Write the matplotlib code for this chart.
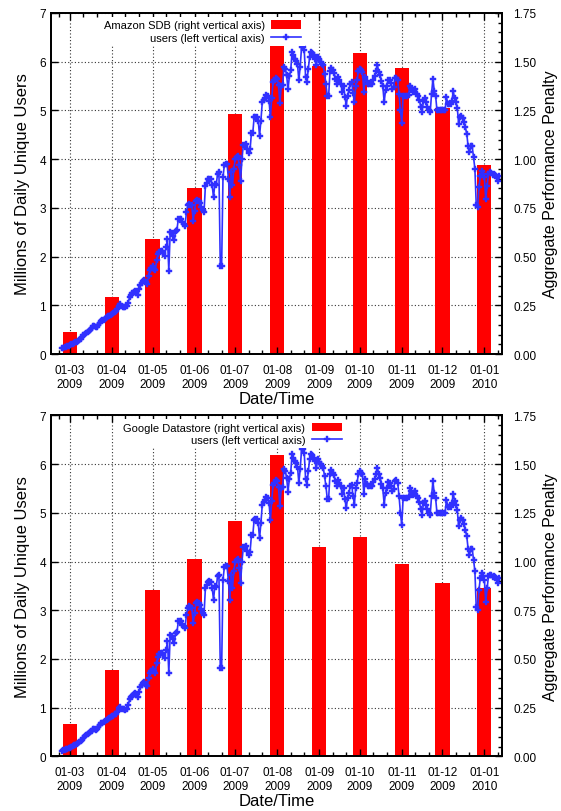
import matplotlib
matplotlib.use('Agg')
import matplotlib.pyplot as plt
import matplotlib.dates as mdates
from matplotlib.ticker import MultipleLocator, FormatStrFormatter
from datetime import date, timedelta

plt.rcParams['font.family'] = ['Liberation Sans', 'DejaVu Sans']

# daily unique users (millions), one value per day starting 2009-02-23
users_feb = [0.12, 0.13, 0.14, 0.15, 0.16, 0.17]
users_mar = [0.18, 0.20, 0.21, 0.23, 0.24, 0.25, 0.27, 0.29, 0.31, 0.34,
             0.38, 0.41, 0.43, 0.46, 0.48, 0.50, 0.53, 0.57, 0.57, 0.55,
             0.56, 0.60, 0.64, 0.68, 0.69, 0.70, 0.72, 0.75, 0.77, 0.79, 0.81]
users_apr = [0.82, 0.84, 0.87, 0.88, 0.92, 0.99, 1.02, 0.98, 0.97, 0.97,
             0.96, 0.98, 1.05, 1.17, 1.22, 1.25, 1.28, 1.30, 1.26, 1.22,
             1.33, 1.42, 1.46, 1.50, 1.52, 1.47, 1.44, 1.60, 1.72, 1.76]
users_may = [1.80, 1.75, 1.72, 1.92, 2.05, 2.10, 2.12, 2.12, 2.08, 2.02,
             2.19, 2.36, 1.71, 2.50, 2.48, 2.42, 2.33, 2.53, 2.55, 2.77,
             2.77, 2.78, 2.70, 2.67, 2.63, 2.91, 3.05, 3.08, 3.06, 3.05, 2.74]
users_jun = [2.94, 3.15, 3.16, 3.15, 3.10, 3.02, 2.95, 2.91, 3.45, 3.52,
             3.59, 3.60, 3.59, 3.46, 3.22, 3.49, 3.47, 3.70, 3.73, 1.81,
             1.81, 3.63, 3.88, 3.90, 3.90, 3.60, 3.22, 3.73, 3.46, 3.80]
users_jul = [4.00, 4.04, 4.06, 3.87, 3.56, 4.00, 4.29, 4.30, 4.31, 4.21,
             4.13, 4.20, 4.54, 4.54, 4.86, 4.87, 4.87, 4.79, 4.48, 4.79,
             5.17, 5.22, 5.26, 5.32, 5.30, 5.20, 4.86, 5.25, 5.58, 5.62, 5.67]
users_aug = [5.65, 5.52, 5.15, 5.50, 5.52, 5.89, 5.86, 5.72, 5.43, 5.70,
             5.82, 6.20, 6.13, 6.06, 6.02, 5.95, 5.62, 5.89, 6.30, 6.30,
             6.23, 5.69, 5.58, 5.86, 6.10, 6.20, 6.18, 6.13, 6.06, 5.93, 6.10]
users_sep = [6.05, 6.00, 5.96, 5.93, 5.75, 5.55, 5.29, 5.29, 5.80, 5.88,
             5.82, 5.77, 5.65, 5.55, 5.68, 5.62, 5.55, 5.38, 5.50, 5.28,
             5.10, 5.30, 5.41, 5.55, 5.58, 5.35, 5.17, 5.50, 5.62, 5.80]
users_oct = [5.85, 5.82, 5.79, 5.38, 5.69, 5.60, 5.55, 5.55, 5.55, 5.55,
             5.63, 5.70, 5.80, 5.93, 5.79, 5.72, 5.60, 5.50, 5.17, 5.41,
             5.51, 5.63, 5.62, 5.56, 5.44, 5.48, 5.66, 5.67, 5.62, 5.34, 5.00]
users_nov = [4.75, 5.30, 5.30, 5.30, 5.30, 5.32, 5.50, 5.45, 5.37, 5.41,
             5.44, 5.34, 5.30, 5.22, 5.08, 4.96, 5.20, 5.25, 5.17, 5.08,
             5.00, 4.96, 5.34, 5.65, 5.40, 5.30, 5.00, 5.00, 5.00, 5.00]
users_dec = [5.00, 5.00, 5.00, 5.27, 5.13, 5.13, 5.13, 5.20, 5.39, 5.25,
             5.17, 5.05, 4.72, 4.86, 4.89, 4.85, 4.77, 4.65, 4.52, 4.26,
             4.14, 4.26, 4.26, 4.04, 3.80, 3.06, 3.01, 3.42, 3.66, 3.76, 3.70]
users_jan = [3.63, 3.18, 3.45, 3.70, 3.73, 3.72, 3.68, 3.70, 3.68, 3.62,
             3.56, 3.66]

users = (users_feb + users_mar + users_apr + users_may + users_jun + users_jul
         + users_aug + users_sep + users_oct + users_nov + users_dec + users_jan)
start = date(2009, 2, 23)
days = [start + timedelta(days=i) for i in range(len(users))]

# monthly penalty bars (right axis)
months = [date(2009, 3, 1), date(2009, 4, 1), date(2009, 5, 1), date(2009, 6, 1),
          date(2009, 7, 1), date(2009, 8, 1), date(2009, 9, 1), date(2009, 10, 1),
          date(2009, 11, 1), date(2009, 12, 1), date(2010, 1, 1)]
sdb_penalty = [0.113, 0.29, 0.59, 0.85, 1.23, 1.598, 1.48, 1.545, 1.468, 1.263, 0.972]
gds_penalty = [0.165, 0.443, 0.855, 1.012, 1.21, 1.546, 1.074, 1.125, 0.988, 0.889, 0.866]

fig = plt.figure(figsize=(5.61, 8.12), dpi=100)

def panel(rect, penalty, name, leg_x):
    ax = fig.add_axes(rect)
    ax2 = ax.twinx()
    ax.set_zorder(ax2.get_zorder() + 1)
    ax.patch.set_visible(False)

    bars = ax2.bar(months, penalty, width=10.5, color='#ff0000', zorder=2,
                   label=name + ' (right vertical axis)')
    line, = ax.plot(days, users, color='#3030ff', lw=1.2, marker='P', ms=4.5,
                    mew=0.3, label='users (left vertical axis)')

    ax.set_xlim(date(2009, 2, 15), date(2010, 1, 14))
    ax.set_ylim(0, 7)
    ax2.set_ylim(0, 1.75)

    ax.xaxis.set_major_locator(mdates.MonthLocator())
    ax.xaxis.set_minor_locator(mdates.DayLocator(bymonthday=[11, 21]))
    ax.xaxis.set_major_formatter(mdates.DateFormatter('%d-%m\n%Y'))
    ax.yaxis.set_major_locator(MultipleLocator(1))
    ax2.yaxis.set_major_locator(MultipleLocator(0.25))
    ax2.yaxis.set_minor_locator(MultipleLocator(0.05))
    ax2.yaxis.set_major_formatter(FormatStrFormatter('%.2f'))

    # grid lives on the bar axis so the bars cover it
    ax2.xaxis.set_visible(True)
    ax2.set_axisbelow(True)
    ax2.grid(True, which='major', ls=(0, (1, 2)), color='#333333', lw=0.8)
    ax2.tick_params(axis='x', which='both', bottom=False, top=False,
                    labelbottom=False)

    ax.tick_params(axis='x', which='major', direction='in', top=True,
                   length=5, width=1, labelsize=8.5, pad=7)
    ax.tick_params(axis='x', which='minor', direction='in', top=True,
                   length=3, width=1)
    ax.tick_params(axis='y', direction='in', left=True, right=False,
                   length=5, width=1, labelsize=8.5)
    ax2.tick_params(axis='y', which='major', direction='in', length=5, width=1,
                    labelsize=8.5, pad=8)
    ax2.tick_params(axis='y', which='minor', direction='in', length=3, width=1)

    for sp in ax.spines.values():
        sp.set_linewidth(1.3)
    for sp in ax2.spines.values():
        sp.set_linewidth(1.3)

    ax.set_ylabel('Millions of Daily Unique Users', fontsize=12, labelpad=7)
    ax2.set_ylabel('Aggregate Performance Penalty', fontsize=11.5, labelpad=5)
    ax.set_xlabel('Date/Time', fontsize=12, labelpad=1)

    leg = ax.legend([bars, line], [bars.get_label(), line.get_label()],
                    loc='upper right', bbox_to_anchor=(leg_x, 1.005),
                    markerfirst=False, fontsize=8, handlelength=2.7,
                    handleheight=0.8, labelspacing=0.2, borderpad=0.3,
                    handletextpad=0.6, frameon=True, fancybox=False)
    leg.get_frame().set_facecolor('white')
    leg.get_frame().set_edgecolor('none')
    leg.get_frame().set_alpha(1)
    return ax

panel([0.0909, 0.5628, 0.8039, 0.42], sdb_penalty, 'Amazon SDB', 0.575)
panel([0.0909, 0.0672, 0.8039, 0.42], gds_penalty, 'Google Datastore', 0.665)

fig.savefig('out.png', dpi=100)
